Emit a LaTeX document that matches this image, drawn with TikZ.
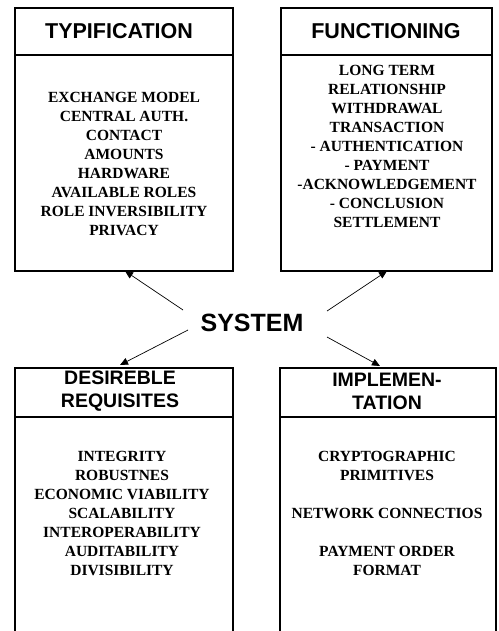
\documentclass[tikz,border=0pt]{standalone}
\usepackage{fontspec}
\setmainfont{Liberation Serif}
\newfontfamily\hdfont{Liberation Sans}
\usetikzlibrary{arrows.meta}
\begin{document}
\begin{tikzpicture}[x=1pt,y=-1pt,
  boxline/.style={line width=1.2pt, draw=black},
  hd/.style={font=\hdfont\bfseries\fontsize{21.5}{24}\selectfont, align=center, inner sep=0pt},
  hdtwo/.style={font=\hdfont\bfseries\fontsize{19.5}{23}\selectfont, align=center, inner sep=0pt},
  bodytxt/.style={font=\bfseries\fontsize{15.5}{19}\selectfont, align=center, inner sep=0pt},
  systxt/.style={font=\hdfont\bfseries\fontsize{25}{28}\selectfont, inner sep=0pt},
  conn/.style={line width=0.7pt, -{Triangle[length=8pt,width=7pt]}}]
\useasboundingbox (0,0) rectangle (498,631);
\fill[white] (0,0) rectangle (498,631);

% top-left box
\draw[boxline] (15,8) rectangle (233,271);
\draw[boxline] (15,55) -- (233,55);
\node[hd] (tlhead) at (119,31) {TYPIFICATION};
\node[bodytxt] (tlbody) at (124,163.5) {EXCHANGE MODEL\\CENTRAL AUTH.\\CONTACT\\AMOUNTS\\HARDWARE\\AVAILABLE ROLES\\ROLE INVERSIBILITY\\PRIVACY};

% top-right box
\draw[boxline] (281,8) rectangle (492,271);
\draw[boxline] (281,55) -- (492,55);
\node[hd] (trhead) at (386,31) {FUNCTIONING};
\node[bodytxt] (trbody) at (387,146) {LONG TERM\\RELATIONSHIP\\WITHDRAWAL\\TRANSACTION\\- AUTHENTICATION\\- PAYMENT\\-ACKNOWLEDGEMENT\\- CONCLUSION\\SETTLEMENT};

% bottom-left box (open at the bottom)
\draw[boxline] (15,631) -- (15,368) -- (233,368) -- (233,631);
\draw[boxline] (15,417) -- (233,417);
\node[hdtwo] (blhead) at (120,391) {DESIREBLE\\REQUISITES};
\node[bodytxt] (blbody) at (122,513.5) {INTEGRITY\\ROBUSTNES\\ECONOMIC VIABILITY\\SCALABILITY\\INTEROPERABILITY\\AUDITABILITY\\DIVISIBILITY};

% bottom-right box (open at the bottom)
\draw[boxline] (280,631) -- (280,368) -- (496,368) -- (496,631);
\draw[boxline] (280,417) -- (496,417);
\node[hdtwo] (brhead) at (387,391) {IMPLEMEN-\\TATION};
\node[bodytxt] (brbody) at (387,513.5) {CRYPTOGRAPHIC\\PRIMITIVES\\[19pt]NETWORK CONNECTIOS\\[19pt]PAYMENT ORDER\\FORMAT};

% centre
\node[systxt] (sys) at (252,322.5) {SYSTEM};

\coordinate (sTL) at (183,310);
\coordinate (sTR) at (327,311);
\coordinate (sBL) at (188,330);
\coordinate (sBR) at (327,337);
\coordinate (eTL) at (125,271);
\coordinate (eTR) at (387,271);
\coordinate (eBL) at (120,365);
\coordinate (eBR) at (380,366);

\draw[conn] (sTL) -- (eTL);
\draw[conn] (sTR) -- (eTR);
\draw[conn] (sBL) -- (eBL);
\draw[conn] (sBR) -- (eBR);
\end{tikzpicture}
\end{document}
